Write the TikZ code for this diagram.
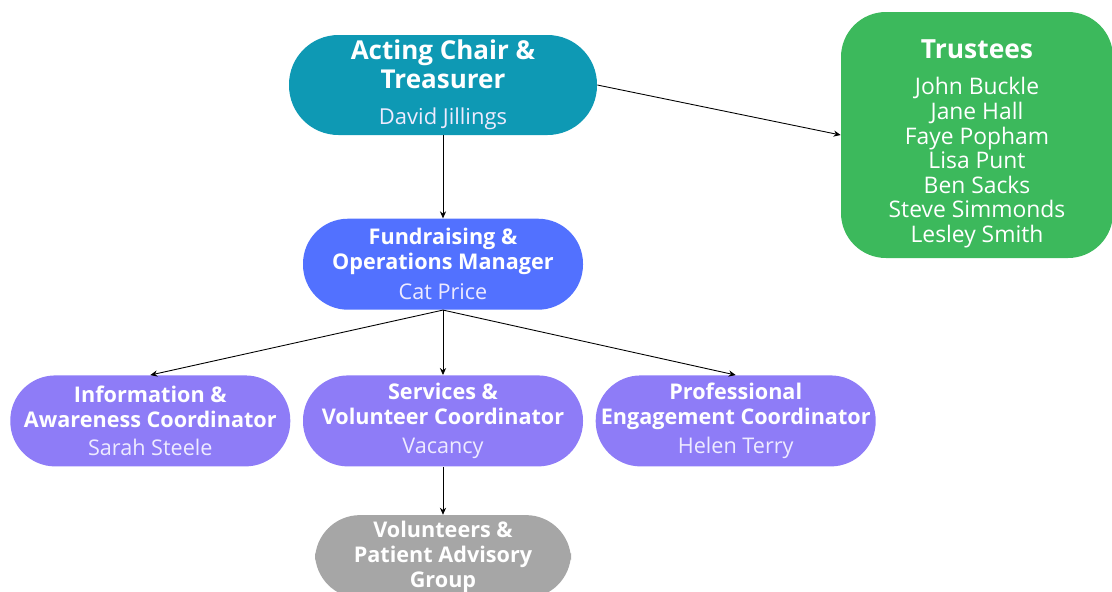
\documentclass[tikz,border=0pt]{standalone}
\usepackage{fontspec}
\setmainfont{Open Sans}
\usetikzlibrary{positioning, arrows.meta}

\definecolor{chairteal}{HTML}{0E99B4}
\definecolor{managerblue}{HTML}{5271FF}
\definecolor{coordpurple}{HTML}{8E7CF7}
\definecolor{groupgrey}{HTML}{A6A6A6}
\definecolor{trusteegreen}{HTML}{3CB95C}
\definecolor{namewhite}{HTML}{EEEBFF}

% name line under a role title
\newcommand{\who}[1]{{\mdseries\color{namewhite}#1}}

\begin{document}
\begin{tikzpicture}[%
    >={Stealth[length=4pt,width=3.5pt]},
    every node/.style={%
      text=white,
      text centered,
      align=center,
      inner sep=0pt
    },
    link/.style={->, black, line width=0.5pt},
    role/.style={%
      rounded corners=0.9cm,
      minimum width=5.6cm,
      minimum height=1.82cm,
      font=\fontsize{12.3}{14.2}\selectfont\bfseries
    }
  ]

  \useasboundingbox (0,0) rectangle (22.24,-11.82);

  % top of the chart
  \node[role, fill=chairteal, minimum width=6.16cm, minimum height=2.0cm,
    rounded corners=0.99cm, font=\fontsize{14.8}{16.5}\selectfont\bfseries]
    (chair) at (8.86,-1.70)
    {Acting Chair \&\\ Treasurer\\[4pt]
     {\fontsize{12.5}{14}\selectfont\who{David Jillings}}};

  % board list, a strut pushes the block down a little
  \node[fill=trusteegreen, rounded corners=0.9cm, minimum width=5.44cm,
    minimum height=4.92cm, font=\fontsize{13}{14}\selectfont]
    (trustees) at (19.54,-2.70)
    {\rule{0pt}{0.72cm}{\fontsize{15}{17}\selectfont\bfseries Trustees}\\[7pt]
     John Buckle\\ Jane Hall\\ Faye Popham\\ Lisa Punt\\
     Ben Sacks\\ Steve Simmonds\\ Lesley Smith};

  \node[role, fill=managerblue, below=1.66cm of chair] (manager)
    {Fundraising \&\\ Operations Manager\\[3pt] \who{Cat Price}};

  % coordinators
  \node[role, fill=coordpurple, below=1.3cm of manager] (services)
    {Services \&\\ Volunteer Coordinator\\[2pt] \who{Vacancy}};
  \node[role, fill=coordpurple, left=0.24cm of services] (info)
    {Information \&\\ Awareness Coordinator\\[2pt] \who{Sarah Steele}};
  \node[role, fill=coordpurple, right=0.24cm of services] (engage)
    {Professional\\ Engagement Coordinator\\[2pt] \who{Helen Terry}};

  \node[role, fill=groupgrey, minimum width=5.12cm, minimum height=1.66cm,
    below=0.96cm of services] (volunteers)
    {Volunteers \&\\ Patient Advisory\\ Group};

  % connectors
  \draw[link] (chair.south) -- (manager.north);
  \draw[link] (chair.east) -- (trustees.west);
  \draw[link] (manager.south) -- (info.north);
  \draw[link] (manager.south) -- (services.north);
  \draw[link] (manager.south) -- (engage.north);
  \draw[link] (services.south) -- (volunteers.north);

\end{tikzpicture}
\end{document}
